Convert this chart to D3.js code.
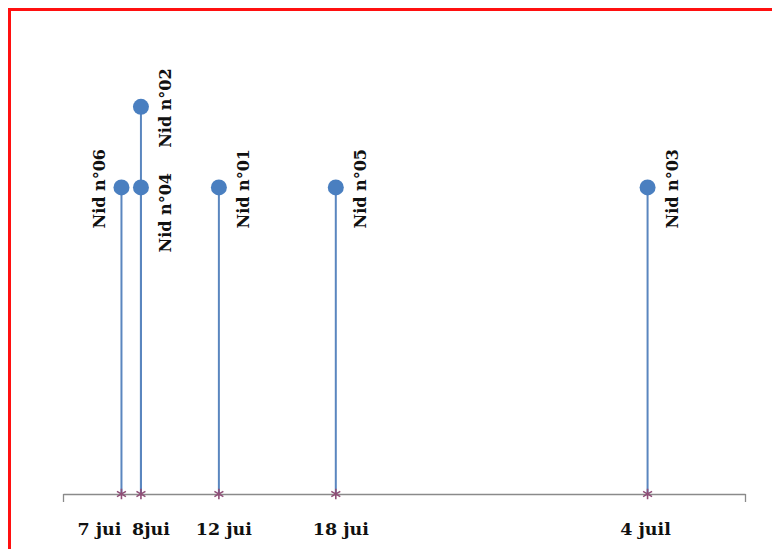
<!DOCTYPE html>
<html>
<head>
<meta charset="utf-8">
<script src="https://cdn.jsdelivr.net/npm/d3@7"></script>
<style>
  html, body { margin: 0; padding: 0; background: #ffffff; }
  svg { display: block; }
</style>
</head>
<body>
<svg id="chart" width="772" height="549"></svg>
<script>
// ---- data ----
const nests = ["Nid n°06", "Nid n°04", "Nid n°02", "Nid n°01", "Nid n°05", "Nid n°03"];
const nestDates = ["2019-06-07", "2019-06-08", "2019-06-08", "2019-06-12", "2019-06-18", "2019-07-04"];
const nestValues = [3.8, 3.8, 4.8, 3.8, 3.8, 3.8];
const tickDates = ["2019-06-07", "2019-06-08", "2019-06-12", "2019-06-18", "2019-07-04"];
const tickLabels = ["7 jui", "8jui", "12 jui", "18 jui", "4 juil"];
const axisDomain = ["2019-06-04", "2019-07-09"];

const parse = d3.timeParse("%Y-%m-%d");
const svg = d3.select("#chart");

const x = d3.scaleTime()
  .domain(axisDomain.map(parse))
  .range([63, 745]);
const y = d3.scaleLinear()
  .domain([0, 6])
  .range([494, 10]);

// red frame
svg.append("rect")
  .attr("x", 9.5).attr("y", 9.5)
  .attr("width", 780).attr("height", 560)
  .attr("fill", "none")
  .attr("stroke", "#ff1010")
  .attr("stroke-width", 3);

// axis baseline with end ticks
const axis = d3.axisBottom(x)
  .tickValues(axisDomain.map(parse))
  .tickSize(8)
  .tickSizeOuter(0)
  .tickFormat("");
const axisG = svg.append("g")
  .attr("transform", `translate(0,${y(0)})`)
  .call(axis);
axisG.select(".domain").attr("stroke", "#8a8a8a").attr("stroke-width", 1.3);
axisG.selectAll(".tick line").attr("stroke", "#8a8a8a").attr("stroke-width", 1.3);

// tick labels (hand-placed beside their ticks)
const labelShift = i => (i === 0 ? -22 : i === 1 ? 10 : i === 4 ? -2 : 5);
svg.append("g").selectAll("text")
  .data(tickLabels)
  .join("text")
  .attr("x", (d, i) => x(parse(tickDates[i])) + labelShift(i))
  .attr("y", 535)
  .attr("text-anchor", "middle")
  .attr("font-family", "'DejaVu Serif', serif")
  .attr("font-weight", "bold")
  .attr("font-size", 17.5)
  .attr("fill", "#111")
  .text(d => d);

const data = nests.map((n, i) => ({ name: n, date: parse(nestDates[i]), value: nestValues[i] }));

// stems
svg.append("g").selectAll("line")
  .data(data)
  .join("line")
  .attr("x1", d => x(d.date)).attr("x2", d => x(d.date))
  .attr("y1", y(0)).attr("y2", d => y(d.value))
  .attr("stroke", "#5a86bf")
  .attr("stroke-width", 2);

// baseline markers
svg.append("g").selectAll("path")
  .data(data.filter((d, i) => i !== 2))
  .join("path")
  .attr("transform", d => `translate(${x(d.date)},${y(0)})`)
  .attr("d", d3.symbol(d3.symbolAsterisk, 75))
  .attr("fill", "none")
  .attr("stroke", "#8f4f77")
  .attr("stroke-width", 1.6);

// dots
svg.append("g").selectAll("circle")
  .data(data)
  .join("circle")
  .attr("cx", d => x(d.date))
  .attr("cy", d => y(d.value))
  .attr("r", 8)
  .attr("fill", "#4a7fc0");

// nest labels (rotated), placed to avoid overlaps
const side = d => (d.name === "Nid n°06" ? -16 : 30);
const drop = d => (d.name === "Nid n°04" ? 65 : 41);
svg.append("g").selectAll("text")
  .data(data)
  .join("text")
  .attr("transform", d => `translate(${x(d.date) + side(d)},${y(d.value) + drop(d)}) rotate(-90)`)
  .attr("font-family", "'DejaVu Serif', serif")
  .attr("font-weight", "bold")
  .attr("font-size", 16)
  .attr("fill", "#111")
  .text(d => d.name);
</script>
</body>
</html>
